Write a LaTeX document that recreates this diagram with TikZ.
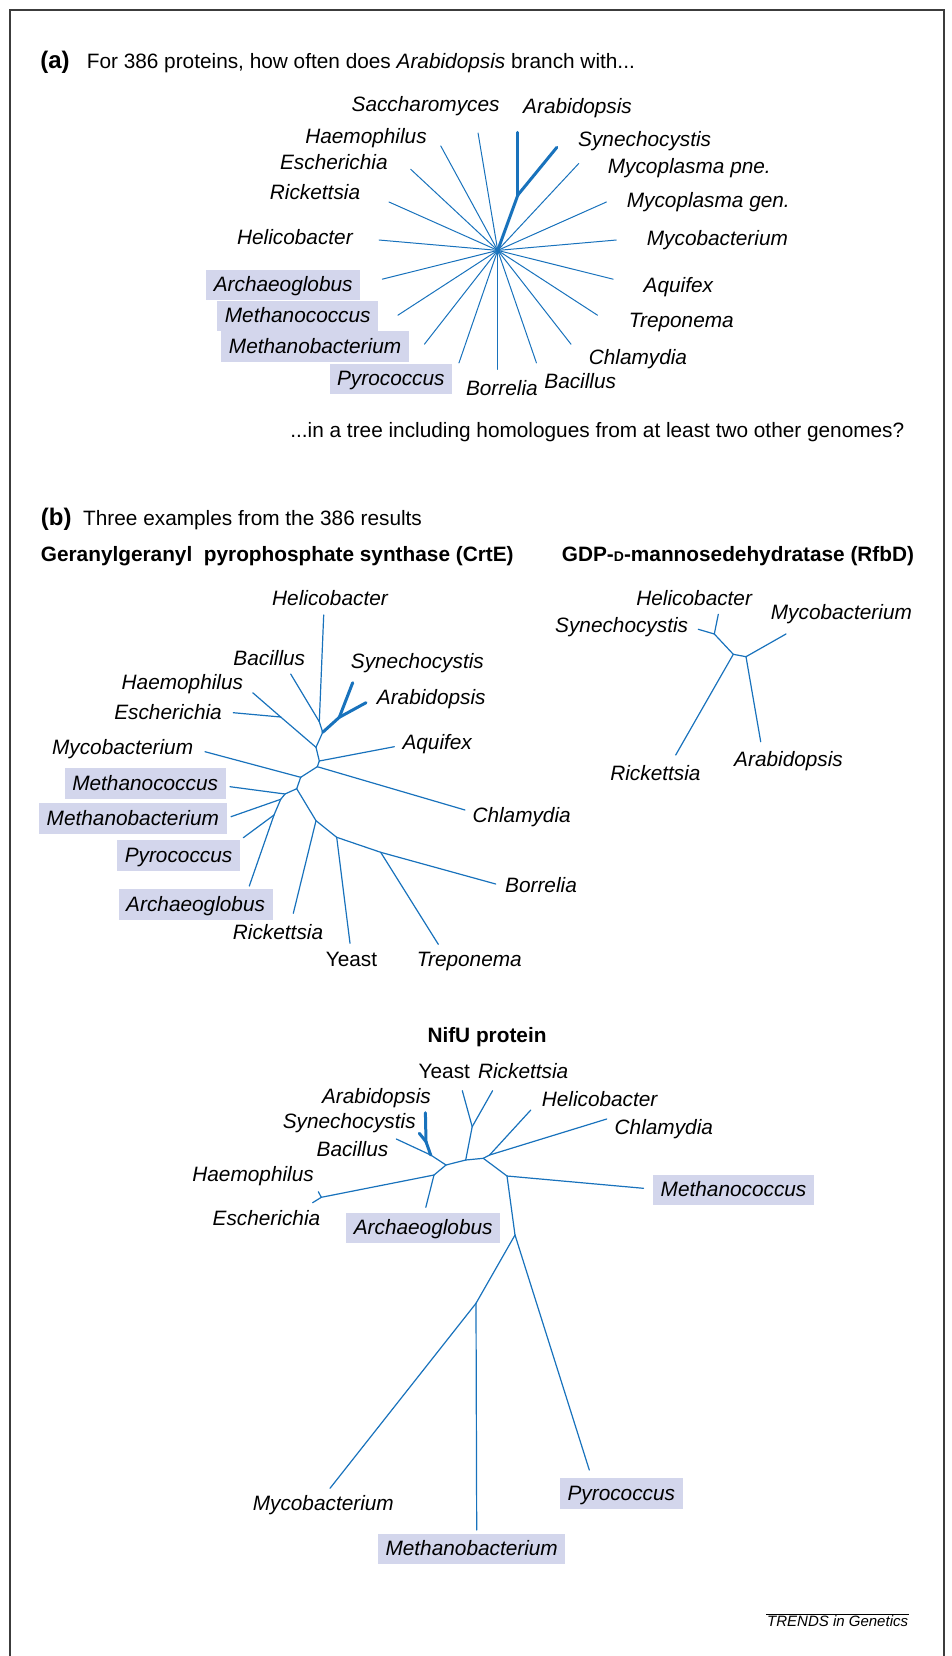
\documentclass[tikz,border=0pt]{standalone}
\usepackage{fontspec}
\setmainfont{Liberation Sans}
\usetikzlibrary{positioning, calc}

\definecolor{branch}{RGB}{24,114,188}
\definecolor{archbox}{RGB}{211,214,236}
\definecolor{framegray}{RGB}{60,60,60}

\tikzset{
  br/.style={draw=branch, line width=1.2pt, line cap=round, line join=round},
  thickbr/.style={br, line width=3pt},
  lab/.style={font=\fontsize{20.8}{25}\selectfont, inner sep=0pt, text height=18pt, text depth=4.5pt},
  sp/.style={lab, font=\fontsize{20.8}{25}\selectfont\itshape},
  arch/.style={sp, fill=archbox, inner xsep=7.5pt, inner ysep=4.05pt},
  ttl/.style={lab, font=\fontsize{20.8}{25}\selectfont\bfseries},
  panel/.style={lab, font=\fontsize{24}{28}\selectfont\bfseries},
}

\begin{document}
\begin{tikzpicture}[x=1pt, y=-1pt]
\useasboundingbox (0,0) rectangle (951,1656);
\draw[framegray, line width=1.5pt] (10,1656) -- (10,10) -- (944,10) -- (944,1656);

% (a)
\node[panel, anchor=west] (ha) at (40.2,61.3) {(a)};
\node[lab, anchor=west] (qa) at (86.6,61.3) {For 386 proteins, how often does \textit{Arabidopsis} branch with...};

\begin{scope}[shift={(497.7,250.4)}]
  \coordinate (a0) at (0,0);
  \foreach \ang/\nm in {90/bor,71/bac,52/chl,33/tre,14/aqu,-5/myc,-24/mgen,-47/mpne,
                        -99.5/sac,-118.6/hae,-137/esc,-156/ric,-175/hel,166/arc,147/mcc,128/mba,109/pyr}
    \coordinate (a-\nm) at (\ang:119);
  \coordinate (a-n) at (-70:59);
  \coordinate (a-ara) at ($(a-n)+(0,-62.6)$);
  \coordinate (a-syn) at ($(a-n)+(-50.7:61.5)$);
\end{scope}
\foreach \nm in {bor,bac,chl,tre,aqu,myc,mgen,mpne,sac,hae,esc,ric,hel,arc,mcc,mba,pyr}
  \draw[br, line width=1pt] (a0) -- (a-\nm);
\draw[thickbr] (a0) edge (a-n) (a-n) edge (a-ara) edge (a-syn);

\node[sp, anchor=west] (la-ara) at (523,106.7) {Arabidopsis};
\node[sp, anchor=west] (la-syn) at (578,139.5) {Synechocystis};
\node[sp, anchor=west] (la-mpne) at (607.6,167) {Mycoplasma pne.};
\node[sp, anchor=west] (la-mgen) at (626.6,200.8) {Mycoplasma gen.};
\node[sp, anchor=west] (la-myc) at (646.7,238.8) {Mycobacterium};
\node[sp, anchor=west] (la-aqu) at (643.5,285.3) {Aquifex};
\node[sp, anchor=west] (la-tre) at (628.7,321.2) {Treponema};
\node[sp, anchor=west] (la-chl) at (588.6,358.2) {Chlamydia};
\node[sp, anchor=west] (la-bac) at (544.2,381.5) {Bacillus};
\node[sp, anchor=east] (la-bor) at (537.9,388.9) {Borrelia};
\node[sp, anchor=east] (la-sac) at (499.8,104.6) {Saccharomyces};
\node[sp, anchor=east] (la-hae) at (426.9,136.3) {Haemophilus};
\node[sp, anchor=east] (la-esc) at (387.8,162.7) {Escherichia};
\node[sp, anchor=east] (la-ric) at (360.3,192.3) {Rickettsia};
\node[sp, anchor=east] (la-hel) at (352.9,237.8) {Helicobacter};
\node[arch, anchor=east] (la-arc) at (360.3,284.8) {Archaeoglobus};
\node[arch, anchor=east] (la-mcc) at (378.3,316) {Methanococcus};
\node[arch, anchor=east] (la-mba) at (408.9,346.6) {Methanobacterium};
\node[arch, anchor=east] (la-pyr) at (452.3,378.9) {Pyrococcus};

\node[lab, anchor=east] (qb) at (904.5,431.1) {...in a tree including homologues from at least two other genomes?};

% (b)
\node[panel, anchor=west] (hb) at (40.7,518.5) {(b)};
\node[lab, anchor=west] (tb) at (83,518.5) {Three examples from the 386 results};
\node[ttl, anchor=west] (t-crte) at (40.7,555) {Geranylgeranyl~ pyrophosphate synthase (CrtE)};
\node[ttl, anchor=west] (t-rfbd) at (561.7,555) {GDP-{\fontsize{14}{14}\selectfont D}-mannosedehydratase (RfbD)};
\node[ttl] (t-nifu) at (487,1036) {NifU protein};

% CrtE tree
\coordinate (c-hel) at (323.7,615);   \coordinate (c-bac) at (290.7,674);
\coordinate (c-syn) at (352.7,682.7); \coordinate (c-ara) at (366,702.7);
\coordinate (c-hae) at (252.7,692.7); \coordinate (c-esc) at (233.3,712.7);
\coordinate (c-aqu) at (394.3,746.7); \coordinate (c-chl) at (465,810);
\coordinate (c-myc) at (205,751.7);   \coordinate (c-mcc) at (230,786.7);
\coordinate (c-mba) at (231,816.7);   \coordinate (c-pyr) at (243.3,837.7);
\coordinate (c-arc) at (249.3,886);   \coordinate (c-ric) at (293.3,913.3);
\coordinate (c-yea) at (350,943.3);   \coordinate (c-tre) at (438.3,944.3);
\coordinate (c-bor) at (495.7,884);
\coordinate (c1) at (319.3,721.7);  \coordinate (c2) at (339.3,717.3);
\coordinate (c3) at (322.7,732.3);  \coordinate (c4) at (316,747.3);
\coordinate (c5) at (280.7,717);    \coordinate (c6) at (319.3,761);
\coordinate (c7) at (317.3,766.7);  \coordinate (c8) at (300.7,777.3);
\coordinate (c9) at (296.7,788.7);  \coordinate (c10) at (285,794);
\coordinate (c11) at (280.7,799.3); \coordinate (c12) at (274,815);
\coordinate (c13) at (316,820.7);   \coordinate (c14) at (336.7,837.3);
\coordinate (c15) at (380.7,852.3);

\draw[thickbr] (c2) edge (c-syn) edge (c-ara) edge (c3);
\draw[br] (c1) edge (c-hel) edge (c-bac) edge (c3)
  (c4) edge (c3) edge (c5) edge (c6)
  (c5) edge (c-hae) edge (c-esc)
  (c6) edge (c-aqu) edge (c7)
  (c7) edge (c-chl) edge (c8)
  (c8) edge (c-myc) edge (c9)
  (c9) edge (c10) edge (c13)
  (c10) edge (c-mcc) edge (c11)
  (c11) edge (c-mba) edge (c12)
  (c12) edge (c-pyr) edge (c-arc)
  (c13) edge (c-ric) edge (c14)
  (c14) edge (c-yea) edge (c15)
  (c15) edge (c-tre) edge (c-bor);

\node[sp] (lc-hel) at (330,599) {Helicobacter};
\node[sp, anchor=east] (lc-bac) at (305.3,658.3) {Bacillus};
\node[sp, anchor=west] (lc-syn) at (350.7,661.7) {Synechocystis};
\node[sp, anchor=east] (lc-hae) at (243.3,682.7) {Haemophilus};
\node[sp, anchor=west] (lc-ara) at (376.7,697.3) {Arabidopsis};
\node[sp, anchor=east] (lc-esc) at (222,712.7) {Escherichia};
\node[sp, anchor=west] (lc-aqu) at (402.3,742.7) {Aquifex};
\node[sp, anchor=east] (lc-myc) at (193.3,747.7) {Mycobacterium};
\node[arch, anchor=east] (lc-mcc) at (225.7,783.3) {Methanococcus};
\node[arch, anchor=east] (lc-mba) at (226.7,818.3) {Methanobacterium};
\node[arch, anchor=east] (lc-pyr) at (240,855.5) {Pyrococcus};
\node[arch, anchor=east] (lc-arc) at (272.7,904.5) {Archaeoglobus};
\node[sp, anchor=east] (lc-ric) at (323.3,932.3) {Rickettsia};
\node[sp, anchor=west] (lc-chl) at (472.3,815.8) {Chlamydia};
\node[sp, anchor=west] (lc-bor) at (505,885.5) {Borrelia};
\node[lab] (lc-yea) at (351.5,959.8) {Yeast};
\node[sp, anchor=west] (lc-tre) at (416.7,960) {Treponema};

% RfbD tree
\coordinate (r-hel) at (718.3,614.3); \coordinate (r-syn) at (698.3,629.3);
\coordinate (r-myc) at (786,634);     \coordinate (r-ara) at (760.7,741.7);
\coordinate (r-ric) at (675.7,755);
\coordinate (r1) at (714.3,634); \coordinate (r2) at (733.3,654.3); \coordinate (r3) at (746,656.7);
\draw[br] (r1) edge (r-hel) edge (r-syn) edge (r2)
  (r2) edge (r3) edge (r-ric)
  (r3) edge (r-myc) edge (r-ara);

\node[sp] (lr-hel) at (694.2,599) {Helicobacter};
\node[sp, anchor=east] (lr-syn) at (688.3,625.7) {Synechocystis};
\node[sp, anchor=west] (lr-myc) at (770.7,612.7) {Mycobacterium};
\node[sp, anchor=east] (lr-ric) at (700.7,773.3) {Rickettsia};
\node[sp, anchor=west] (lr-ara) at (734,760) {Arabidopsis};

% NifU tree
\coordinate (n-yea) at (462.3,1090.7); \coordinate (n-ric) at (492.6,1090.7);
\coordinate (n-hel) at (530.8,1110);   \coordinate (n-chl) at (606.7,1119);
\coordinate (n-ara) at (425.4,1112.7); \coordinate (n-syn) at (419.3,1133.3);
\coordinate (n-bac) at (396.3,1139);   \coordinate (n-hae) at (318.3,1191.7);
\coordinate (n-esc) at (312.6,1202.7); \coordinate (n-arc) at (425.8,1207.3);
\coordinate (n-mcc) at (643.5,1188.3); \coordinate (n-myc) at (330,1488.3);
\coordinate (n-mba) at (476.7,1530);   \coordinate (n-pyr) at (589.3,1470);
\coordinate (n1) at (472.2,1126.7); \coordinate (n2) at (465.7,1160);
\coordinate (n3) at (483.3,1158.3); \coordinate (n4) at (489.6,1155);
\coordinate (n5) at (507,1176);     \coordinate (n6) at (446,1165);
\coordinate (n7) at (430.7,1155);   \coordinate (n8) at (426,1141.7);
\coordinate (n9) at (434,1175);     \coordinate (n10) at (321.3,1197.3);
\coordinate (n11) at (515,1235);    \coordinate (n12) at (476,1303.3);

\draw[thickbr] (n8) edge (n-ara) edge (n-syn) edge (n7);
\draw[br] (n1) edge (n-yea) edge (n-ric) edge (n2)
  (n3) edge (n2) edge (n4) edge (n5)
  (n4) edge (n-hel) edge (n-chl)
  (n5) edge (n-mcc) edge (n11)
  (n11) edge (n-pyr) edge (n12)
  (n12) edge (n-myc) edge (n-mba)
  (n6) edge (n2) edge (n7) edge (n9)
  (n7) edge (n-bac)
  (n9) edge (n-arc) edge (n10)
  (n10) edge (n-hae) edge (n-esc);

\node[lab] (ln-yea) at (444.3,1071.7) {Yeast};
\node[sp, anchor=west] (ln-ric) at (477.9,1071.7) {Rickettsia};
\node[sp, anchor=east] (ln-ara) at (431,1096.7) {Arabidopsis};
\node[sp, anchor=west] (ln-hel) at (541.6,1100) {Helicobacter};
\node[sp, anchor=east] (ln-syn) at (415.9,1121.7) {Synechocystis};
\node[sp, anchor=west] (ln-chl) at (614.5,1127.3) {Chlamydia};
\node[sp, anchor=east] (ln-bac) at (388.5,1149.3) {Bacillus};
\node[sp, anchor=east] (ln-hae) at (314,1175) {Haemophilus};
\node[arch, anchor=west] (ln-mcc) at (653,1190) {Methanococcus};
\node[sp, anchor=east] (ln-esc) at (320.4,1219) {Escherichia};
\node[arch] (ln-arc) at (423.2,1227.8) {Archaeoglobus};
\node[sp] (ln-myc) at (323.3,1504) {Mycobacterium};
\node[arch] (ln-mba) at (471.7,1549) {Methanobacterium};
\node[arch] (ln-pyr) at (621.3,1493.3) {Pyrococcus};

\node[anchor=east, inner sep=1pt, font=\fontsize{15}{18}\selectfont\itshape] (trends) at (909.3,1621) {TRENDS in Genetics};
\draw[line width=0.8pt] (trends.north west) -- (trends.north east);
\end{tikzpicture}
\end{document}
